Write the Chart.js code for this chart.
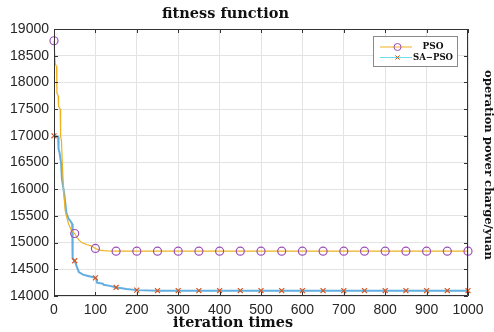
<!DOCTYPE html>
<html><head><meta charset="utf-8">
<script src="https://cdn.jsdelivr.net/npm/chart.js@4.4.1/dist/chart.umd.min.js"></script>
<style>html,body{margin:0;padding:0;background:#fff;}canvas{display:block;}</style>
</head><body>
<canvas id="c" width="494" height="332"></canvas>
<script>
const chartTitle = 'fitness function';
const xTitle = 'iteration times';
const yTitle = 'operation power charge/yuan';
const seriesNames = ['PSO', 'SA\u2212PSO'];
const xTicks = [0, 100, 200, 300, 400, 500, 600, 700, 800, 900, 1000];
const yTicks = [14000, 14500, 15000, 15500, 16000, 16500, 17000, 17500, 18000, 18500, 19000];

const psoIter = [0, 3, 6, 7, 10, 11, 15, 16, 18, 20, 23, 27, 30, 35, 42, 50, 55, 60, 67, 80, 90, 100, 110, 120, 130, 150,
  200, 250, 300, 350, 400, 450, 500, 550, 600, 650, 700, 750, 800, 850, 900, 950, 1000];
const psoValue = [18780, 18350, 18300, 17800, 17750, 17550, 17500, 17000, 16900, 16500, 16000, 15600, 15500, 15350, 15230, 15170, 15100, 15050, 15000, 14960, 14940, 14890, 14860, 14850, 14845, 14840,
  14840, 14840, 14840, 14840, 14840, 14840, 14840, 14840, 14840, 14840, 14840, 14840, 14840, 14840, 14840, 14840, 14840];

const saIter = [0, 10, 11, 13, 17, 19, 21, 25, 30, 35, 40, 44, 45, 50, 55, 60, 70, 80, 90, 100, 102, 104, 118, 120, 135, 150, 160, 175, 200,
  250, 300, 350, 400, 450, 500, 550, 600, 650, 700, 750, 800, 850, 900, 950, 1000];
const saValue = [17000, 16980, 16750, 16700, 16500, 16200, 16100, 15900, 15550, 15450, 15400, 15350, 14700, 14660, 14550, 14450, 14400, 14380, 14360, 14340, 14330, 14250, 14230, 14210, 14190, 14160, 14150, 14130, 14110,
  14100, 14100, 14100, 14100, 14100, 14100, 14100, 14100, 14100, 14100, 14100, 14100, 14100, 14100, 14100, 14100];

const markerEvery = 50;
const toPoints = (xs, ys) => xs.map((x, i) => ({x: x, y: ys[i]}));

const colors = {
  psoLine: '#EDB120', psoMarker: '#9b4fb8',
  saLine: '#62aee0', saMarker: '#D95319', saLegendLine: '#6fdcec',
  grid: '#e3e3e3', axis: '#333333', text: '#262626'
};

function fitFont(ctx, text, width, family) {
  ctx.font = 'bold 100px ' + family;
  const w = ctx.measureText(text).width;
  return 100 * width / w;
}
function drawText(ctx, text, cx, cy, width, family, rot) {
  const size = fitFont(ctx, text, width, family);
  ctx.save();
  ctx.font = 'bold ' + size.toFixed(2) + 'px ' + family;
  ctx.fillStyle = '#111';
  ctx.textAlign = 'center';
  ctx.textBaseline = 'middle';
  ctx.translate(cx, cy);
  if (rot) ctx.rotate(rot);
  ctx.fillText(text, 0, 0);
  ctx.restore();
}

const serif = '"DejaVu Serif", "Liberation Serif", serif';

const decorPlugin = {
  id: 'decor',
  afterDatasetsDraw(chart) {
    const ctx = chart.ctx, a = chart.chartArea;
    const xs = chart.scales.x, ys = chart.scales.y;
    ctx.save();
    ctx.strokeStyle = colors.axis;
    ctx.lineWidth = 1;
    ctx.beginPath();
    ctx.rect(a.left + 0.5, a.top + 0.5, a.right - a.left - 1, a.bottom - a.top - 1);
    ctx.stroke();
    ctx.beginPath();
    const tl = 4;
    xTicks.forEach(v => {
      const px = Math.round(xs.getPixelForValue(v)) + 0.5;
      ctx.moveTo(px, a.bottom); ctx.lineTo(px, a.bottom - tl);
      ctx.moveTo(px, a.top); ctx.lineTo(px, a.top + tl);
    });
    yTicks.forEach(v => {
      const py = Math.round(ys.getPixelForValue(v)) + 0.5;
      ctx.moveTo(a.left, py); ctx.lineTo(a.left + tl, py);
      ctx.moveTo(a.right, py); ctx.lineTo(a.right - tl, py);
    });
    ctx.stroke();
    ctx.restore();
  },
  afterDraw(chart) {
    const ctx = chart.ctx;
    drawText(ctx, chartTitle, 225.5, 14.5, 127, serif, 0);
    drawText(ctx, xTitle, 233, 323, 120, serif, 0);
    drawText(ctx, yTitle, 488, 165, 190, serif, Math.PI / 2);
    // legend
    ctx.save();
    ctx.fillStyle = '#fff';
    ctx.fillRect(373.5, 36.5, 84, 30);
    ctx.strokeStyle = '#8a8a8a';
    ctx.lineWidth = 1;
    ctx.strokeRect(373.5, 36.5, 84, 30);
    const rows = [
      {y: 47, line: colors.psoLine, marker: colors.psoMarker, style: 'circle', r: 3.5},
      {y: 57.5, line: colors.saLegendLine, marker: colors.saMarker, style: 'crossRot', r: 3}
    ];
    rows.forEach((row, i) => {
      ctx.strokeStyle = row.line;
      ctx.lineWidth = 1;
      ctx.beginPath();
      ctx.moveTo(380, row.y); ctx.lineTo(412, row.y);
      ctx.stroke();
      ctx.strokeStyle = row.marker;
      ctx.fillStyle = 'rgba(0,0,0,0)';
      Chart.helpers.drawPoint(ctx, {pointStyle: row.style, radius: row.r, borderWidth: 1}, 397.5, row.y);
      const w = i === 0 ? 21 : 40;
      drawText(ctx, seriesNames[i], 433, row.y, w, serif, 0);
    });
    ctx.restore();
  }
};

const markerRadius = r => (c => (c.raw && c.raw.x % markerEvery === 0) ? r : 0);

new Chart(document.getElementById('c'), {
  type: 'line',
  data: {
    datasets: [
      {
        label: seriesNames[0],
        data: toPoints(psoIter, psoValue),
        borderColor: colors.psoLine,
        borderWidth: 1.2,
        pointStyle: 'circle',
        pointRadius: markerRadius(4),
        pointHoverRadius: 0,
        pointBorderColor: colors.psoMarker,
        pointBackgroundColor: 'rgba(0,0,0,0)',
        pointBorderWidth: 1.2,
        fill: false, tension: 0, clip: false
      },
      {
        label: seriesNames[1],
        data: toPoints(saIter, saValue),
        borderColor: colors.saLine,
        borderWidth: 2,
        pointStyle: 'crossRot',
        pointRadius: markerRadius(3.5),
        pointHoverRadius: 0,
        pointBorderColor: colors.saMarker,
        pointBackgroundColor: 'rgba(0,0,0,0)',
        pointBorderWidth: 1.2,
        fill: false, tension: 0, clip: false
      }
    ]
  },
  options: {
    responsive: false,
    animation: false,
    devicePixelRatio: 1,
    layout: {padding: {top: 29, right: 26, left: 0, bottom: 0}},
    plugins: {legend: {display: false}, title: {display: false}, tooltip: {enabled: false}},
    scales: {
      x: {
        type: 'linear', min: 0, max: 1000,
        afterFit: s => { s.height = 36; },
        afterBuildTicks: s => { s.ticks = xTicks.map(v => ({value: v})); },
        ticks: {padding: 6, color: colors.text, font: {family: '"Liberation Sans", Arial, sans-serif', size: 14}, maxRotation: 0, autoSkip: false, callback: v => String(v)},
        grid: {color: colors.grid, drawTicks: false},
        border: {display: false}
      },
      y: {
        type: 'linear', min: 14000, max: 19000,
        afterFit: s => { s.width = 54; },
        afterBuildTicks: s => { s.ticks = yTicks.map(v => ({value: v})); },
        ticks: {padding: 5, color: colors.text, font: {family: '"Liberation Sans", Arial, sans-serif', size: 14}, autoSkip: false, callback: v => String(v)},
        grid: {color: colors.grid, drawTicks: false},
        border: {display: false}
      }
    }
  },
  plugins: [decorPlugin]
});
</script>
</body></html>
